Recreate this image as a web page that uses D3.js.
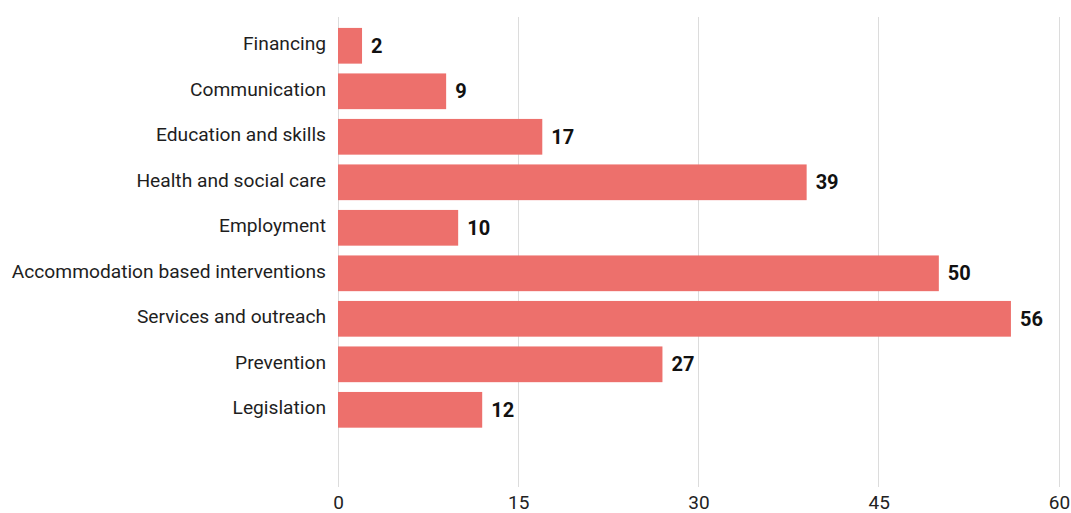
<!DOCTYPE html>
<html>
<head>
<meta charset="utf-8">
<script src="https://cdn.jsdelivr.net/npm/d3@7"></script>
<style>
  html, body { margin: 0; padding: 0; background: #fff; }
  svg { display: block; }
</style>
</head>
<body>
<svg id="chart" width="1071" height="513"></svg>
<script>
// Number of interventions by category
const categories = [
  "Financing",
  "Communication",
  "Education and skills",
  "Health and social care",
  "Employment",
  "Accommodation based interventions",
  "Services and outreach",
  "Prevention",
  "Legislation"
];
const values = [2, 9, 17, 39, 10, 50, 56, 27, 12];
const xTicks = [0, 15, 30, 45, 60];

const plot = { left: 338, right: 1059, top: 17, gridBottom: 487, bandBottom: 438.6 };
const barColor = "#ed706c";
const font = "Roboto, 'Noto Sans', sans-serif";

const svg = d3.select("#chart");

const x = d3.scaleLinear().domain([0, 60]).range([plot.left, plot.right]);
const y = d3.scaleBand()
  .domain(categories)
  .range([plot.top, plot.bandBottom])
  .paddingInner(0.215)
  .paddingOuter(0.24);

const rows = categories.map((c, i) => ({ category: c, value: values[i] }));

// vertical gridlines
svg.append("g")
  .selectAll("line")
  .data(xTicks)
  .join("line")
  .attr("x1", d => x(d)).attr("x2", d => x(d))
  .attr("y1", plot.top).attr("y2", plot.gridBottom)
  .attr("stroke", "#dcdcdc")
  .attr("stroke-width", 1)
  .attr("shape-rendering", "crispEdges");

// x axis tick labels
const xAxis = d3.axisBottom(x).tickValues(xTicks).tickSize(0).tickPadding(0);
const gx = svg.append("g")
  .attr("transform", `translate(0, ${plot.gridBottom + 8})`)
  .call(xAxis);
gx.select(".domain").remove();
gx.selectAll("text")
  .attr("font-family", font)
  .attr("font-size", 19)
  .attr("fill", "#222")
  .attr("dy", "0.71em");

// bars
svg.append("g")
  .selectAll("rect")
  .data(rows)
  .join("rect")
  .attr("x", x(0))
  .attr("y", d => y(d.category))
  .attr("width", d => x(d.value) - x(0))
  .attr("height", y.bandwidth())
  .attr("fill", barColor);

// category labels
const yAxis = d3.axisLeft(y).tickSize(0).tickPadding(12);
const gy = svg.append("g")
  .attr("transform", `translate(${x(0)}, -1.5)`)
  .call(yAxis);
gy.select(".domain").remove();
gy.selectAll("text")
  .attr("font-family", font)
  .attr("font-size", 19.2)
  .attr("fill", "#1e1e1e");

// value labels
svg.append("g")
  .selectAll("text")
  .data(rows)
  .join("text")
  .attr("x", d => x(d.value) + 9)
  .attr("y", d => y(d.category) + y.bandwidth() / 2)
  .attr("dy", "0.35em")
  .attr("font-family", font)
  .attr("font-size", 20)
  .attr("font-weight", "bold")
  .attr("fill", "#111")
  .text(d => d.value);
</script>
</body>
</html>
